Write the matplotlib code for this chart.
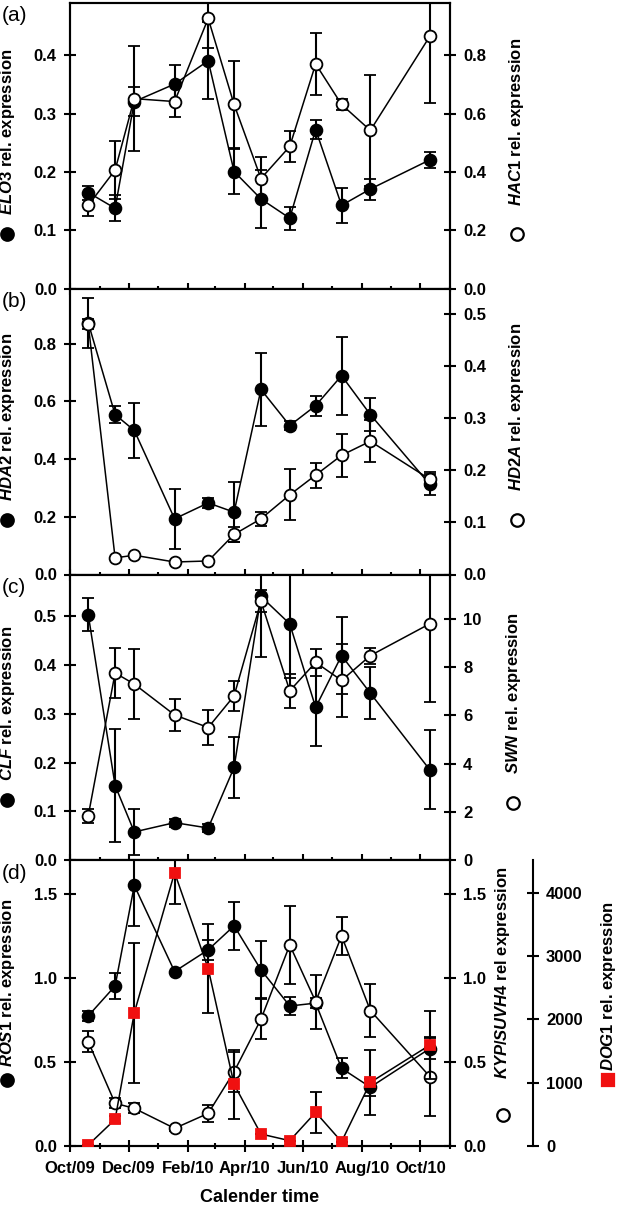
import numpy as np
import matplotlib
matplotlib.use('Agg')
import matplotlib.pyplot as plt
import matplotlib.dates as mdates
from matplotlib.ticker import FormatStrFormatter, MultipleLocator

plt.rcParams['font.family'] = ['Liberation Sans', 'DejaVu Sans']
plt.rcParams['font.weight'] = 'bold'
plt.rcParams['font.size'] = 12
plt.rcParams['mathtext.fontset'] = 'custom'
plt.rcParams['mathtext.it'] = 'Liberation Sans:italic:bold'
plt.rcParams['mathtext.rm'] = 'Liberation Sans:bold'
plt.rcParams['mathtext.bf'] = 'Liberation Sans:bold'
plt.rcParams['axes.linewidth'] = 1.5

# sampling dates
dates = np.array(['2009-10-20', '2009-11-17', '2009-12-07', '2010-01-18', '2010-02-22',
                  '2010-03-21', '2010-04-18', '2010-05-18', '2010-06-14', '2010-07-11',
                  '2010-08-10', '2010-10-11'], dtype='datetime64[D]')

# (a)
elo3 = [0.165, 0.138, 0.321, 0.351, 0.391, 0.201, 0.154, 0.121, 0.273, 0.143, 0.171, 0.221]
elo3_err = [0.012, 0.022, 0.025, 0.032, 0.066, 0.038, 0.05, 0.02, 0.016, 0.03, 0.018, 0.014]
hac1 = [0.286, 0.407, 0.652, 0.642, 0.927, 0.632, 0.378, 0.488, 0.771, 0.632, 0.543, 0.866]
hac1_err = [0.036, 0.10, 0.18, 0.054, 0.10, 0.15, 0.075, 0.054, 0.105, 0.02, 0.19, 0.23]

# (b)
hda2 = [0.872, 0.554, 0.499, 0.193, 0.248, 0.216, 0.641, 0.516, 0.585, 0.689, 0.554, 0.312]
hda2_err = [0.087, 0.03, 0.094, 0.104, 0.018, 0.105, 0.128, 0.015, 0.035, 0.135, 0.058, 0.036]
hd2a = [0.481, 0.032, 0.037, 0.024, 0.026, 0.077, 0.107, 0.153, 0.191, 0.229, 0.256, 0.183]
hd2a_err = [0.01, 0.0, 0.0, 0.0, 0.0, 0.014, 0.014, 0.049, 0.024, 0.041, 0.04, 0.013]

# (c)
clf = [0.503, 0.153, 0.058, 0.077, 0.066, 0.19, 0.54, 0.484, 0.313, 0.419, 0.342, 0.185]
clf_err = [0.034, 0.116, 0.047, 0.008, 0.008, 0.063, 0.124, 0.11, 0.08, 0.079, 0.053, 0.081]
swn = [1.84, 7.76, 7.3, 6.02, 5.5, 6.81, 10.73, 7.02, 8.2, 7.45, 8.48, 9.8]
swn_err = [0.3, 1.05, 1.45, 0.65, 0.72, 0.62, 0.45, 0.7, 0.55, 1.5, 0.33, 3.25]

# (d)
ros1 = [0.774, 0.952, 1.55, 1.038, 1.167, 1.31, 1.048, 0.833, 0.85, 0.462, 0.35, 0.58]
ros1_err = [0.03, 0.078, 0.24, 0.0, 0.06, 0.142, 0.17, 0.055, 0.03, 0.06, 0.05, 0.06]
kyp = [0.621, 0.254, 0.224, 0.105, 0.194, 0.442, 0.754, 1.196, 0.859, 1.25, 0.806, 0.413]
kyp_err = [0.063, 0.03, 0.03, 0.015, 0.05, 0.12, 0.12, 0.23, 0.16, 0.113, 0.155, 0.235]
dog1 = [16, 420, 2102, 4315, 2801, 972, 189, 84, 531, 68, 1004, 1593]
dog1_err = [0, 60, 1100, 490, 700, 550, 0, 0, 320, 0, 510, 540]

RED = '#f01010'


def draw(ax, y, err, marker='o', fc='k', ec='k', ms=8.5):
    ax.errorbar(dates, y, yerr=err, fmt='-', marker=marker, color='k', mfc=fc, mec=ec,
                ms=ms, mew=1.3, lw=1.1, elinewidth=1.5, capsize=4, capthick=1.5)


def style_y(ax, lim, step, fmt):
    ax.set_ylim(0, lim)
    ax.yaxis.set_major_locator(MultipleLocator(step))
    ax.yaxis.set_major_formatter(FormatStrFormatter(fmt))
    ax.tick_params(axis='y', direction='inout', length=9, width=1.5, pad=5)


def style_x(ax, labels):
    ax.set_xlim(np.datetime64('2009-10-01'), np.datetime64('2010-11-01'))
    ax.xaxis.set_major_locator(mdates.MonthLocator(bymonth=[2, 4, 6, 8, 10, 12]))
    ax.xaxis.set_minor_locator(mdates.MonthLocator())
    ax.xaxis.set_major_formatter(mdates.DateFormatter('%b/%y'))
    ax.tick_params(axis='x', which='major', direction='inout', length=9, width=1.5, pad=6,
                   labelbottom=labels)
    ax.tick_params(axis='x', which='minor', direction='inout', length=4.5, width=1.5)


def label(ax, x, y_text, y_glyph, text, marker, fc, ec):
    ax.text(x, y_text, text, rotation=90, transform=ax.transAxes, ha='center', va='center',
            fontsize=12, clip_on=False)
    ax.plot([x], [y_glyph], marker=marker, ms=9, mfc=fc, mec=ec, mew=1.6,
            transform=ax.transAxes, clip_on=False, linestyle='none')


fig = plt.figure(figsize=(6.19, 12.05), dpi=100)
gs = fig.add_gridspec(4, 1, left=70 / 619, right=450 / 619, top=1 - 3 / 1205,
                      bottom=1 - 1146 / 1205, hspace=0)

panels = [
    ('(a)', elo3, elo3_err, hac1, hac1_err, 0.49, 0.1, '%.1f', 0.98, 0.2, '%.1f',
     r'$\mathit{ELO3}$ rel. expression', r'$\mathit{HAC1}$ rel. expression', 1.176,
     0.55, 0.19, 0.19),
    ('(b)', hda2, hda2_err, hd2a, hd2a_err, 0.99, 0.2, '%.1f', 0.549, 0.1, '%.1f',
     r'$\mathit{HDA2}$ rel. expression', r'$\mathit{HD2A}$ rel. expression', 1.176,
     0.55, 0.19, 0.19),
    ('(c)', clf, clf_err, swn, swn_err, 0.585, 0.1, '%.1f', 11.84, 2, '%d',
     r'$\mathit{CLF}$ rel. expression', r'$\mathit{SWN}$ rel. expression', 1.166,
     0.55, 0.21, 0.2),
    ('(d)', ros1, ros1_err, kyp, kyp_err, 1.70, 0.5, '%.1f', 1.70, 0.5, '%.1f',
     r'$\mathit{ROS1}$ rel. expression', r'$\mathit{KYP/SUVH4}$ rel expression', 1.139,
     0.57, 0.23, 0.108),
]

for i, (tag, yl, yl_err, yr, yr_err, llim, lstep, lfmt, rlim, rstep, rfmt,
        ltext, rtext, rx, lt, lg, rg) in enumerate(panels):
    ax = fig.add_subplot(gs[i])
    draw(ax, yl, yl_err)
    style_y(ax, llim, lstep, lfmt)
    style_x(ax, i == 3)
    ax2 = ax.twinx()
    draw(ax2, yr, yr_err, fc='white')
    style_y(ax2, rlim, rstep, rfmt)
    label(ax, -0.165, lt, lg, ltext, 'o', 'k', 'k')
    label(ax, rx, 0.605 if i == 3 else 0.585, rg, rtext, 'o', 'white', 'k')
    ax.text(-0.147, 0.955, tag, transform=ax.transAxes, ha='center', va='center',
            fontsize=15, fontweight='normal')

    if i == 3:
        ax3 = ax.twinx()
        for s in ['left', 'top', 'bottom']:
            ax3.spines[s].set_visible(False)
        ax3.spines['right'].set_position(('axes', 1.218))
        draw(ax3, dog1, dog1_err, marker='s', fc=RED, ec=RED, ms=7.5)
        style_y(ax3, 4510, 1000, '%d')
        label(ax, 1.416, 0.56, 0.23, r'$\mathit{DOG1}$ rel. expression', 's', RED, RED)

fig.text(260 / 619, 1 - 1197 / 1205, 'Calender time', ha='center', va='center', fontsize=13)

plt.savefig('out.png', dpi=100)
